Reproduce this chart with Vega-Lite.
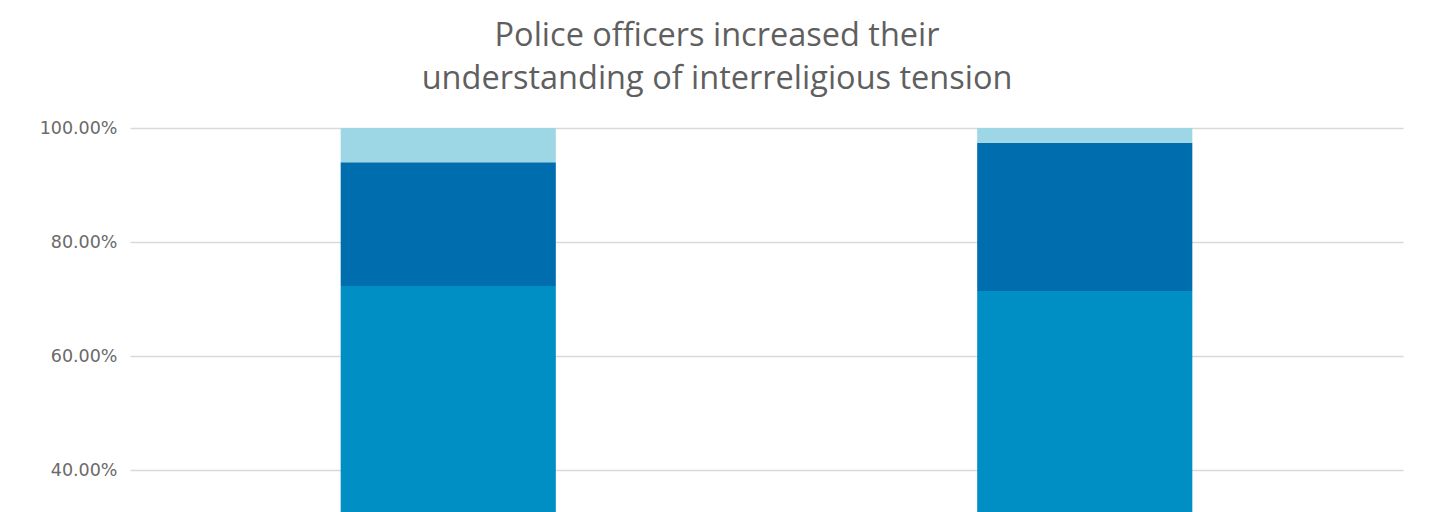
{
  "$schema": "https://vega.github.io/schema/vega-lite/v6.json",
  "autosize": "none",
  "padding": {"left": 130, "top": 128, "right": 29, "bottom": 0},
  "width": 1273,
  "height": 570,
  "background": "white",
  "title": {
    "text": ["Police officers increased their", "understanding of interreligious tension"],
    "font": "Open Sans",
    "fontSize": 32.5,
    "fontWeight": "normal",
    "color": "#5F5F5F",
    "lineHeight": 43,
    "anchor": "middle",
    "frame": "bounds",
    "dx": -4,
    "offset": 24
  },
  "data": {
    "values": [
      {"group": "Cohort 1", "response": "Agree", "order": 1, "share": 0.723},
      {"group": "Cohort 1", "response": "Somewhat agree", "order": 2, "share": 0.217},
      {"group": "Cohort 1", "response": "Disagree", "order": 3, "share": 0.060},
      {"group": "Cohort 2", "response": "Agree", "order": 1, "share": 0.714},
      {"group": "Cohort 2", "response": "Somewhat agree", "order": 2, "share": 0.260},
      {"group": "Cohort 2", "response": "Disagree", "order": 3, "share": 0.026}
    ]
  },
  "mark": {"type": "bar", "width": {"band": 0.338}},
  "encoding": {
    "x": {
      "field": "group",
      "type": "nominal",
      "sort": null,
      "scale": {"paddingInner": 0, "paddingOuter": 0},
      "axis": {"title": null, "labels": false, "domain": false, "ticks": false}
    },
    "y": {
      "field": "share",
      "type": "quantitative",
      "stack": "zero",
      "scale": {"domain": [0, 1], "nice": false},
      "axis": {
        "title": null,
        "format": ".2%",
        "values": [0, 0.2, 0.4, 0.6, 0.8, 1],
        "domain": false,
        "ticks": false,
        "labelPadding": 13,
        "labelFont": "DejaVu Sans",
        "labelFontSize": 17.5,
        "labelColor": "#6A6A6A",
        "gridColor": "#D9D9D9",
        "gridWidth": 1.5
      }
    },
    "color": {
      "field": "response",
      "type": "nominal",
      "scale": {"domain": ["Agree", "Somewhat agree", "Disagree"], "range": ["#008FC4", "#006DAE", "#9DD7E6"]},
      "legend": null
    },
    "order": {"field": "order", "type": "quantitative"}
  },
  "config": {"view": {"stroke": null}}
}
